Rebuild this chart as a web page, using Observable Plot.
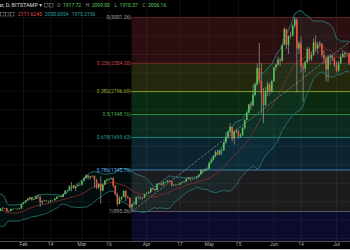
<!DOCTYPE html>
<html><head><meta charset="utf-8">
<script src="https://cdn.jsdelivr.net/npm/d3@7"></script>
<script src="https://cdn.jsdelivr.net/npm/@observablehq/plot@0.6"></script>
<style>
html,body{margin:0;padding:0;background:#000;overflow:hidden;}
#wrap{position:relative;width:350px;height:250px;overflow:hidden;}
#wrap svg{position:absolute;left:0;top:0;}
#strip{position:absolute;left:0;bottom:0;width:350px;height:1px;background:#c8c8c8;}
</style></head><body><div id="wrap"></div>
<script>
// ---- data (BTCUSD daily, Bitstamp, from 2017-01-01) ----
const startDate = "2017-01-01";
const opens = [
963,998,1021,1043,1154,1013,902,908,911,902,907,785,812,826,818,822,831,907,873,900,895,922,921,925,892,895,916,918,920,914,921,
970,989,1009,1030,1044,1016,1025,1051,1045,990,1004,1008,999,996,1010,1011,1029,1049,1054,1048,1079,1115,1117,1166,1173,1143,1165,1179,
1180,1222,1251,1283,1260,1270,1277,1234,1150,1189,1115,1180,1225,1238,1243,1253,1173,1071,971,1023,1048,1114,1046,1039,936,966,968,1045,1044,1040,1037,
1079,1086,1098,1141,1133,1124,1191,1193,1181,1205,1208,1225,1219,1172,1178,1181,1183,1199,1210,1212,1242,1254,1244,1248,1249,1266,1290,1343,1335,1349,
1351,1421,1452,1492,1537,1508,1546,1555,1640,1700,1756,1808,1679,1760,1766,1703,1718,1797,1885,1963,2050,2043,2156,2270,2446,2310,2166,2043,2197,2270,2190,
2303,2455,2486,2537,2523,2699,2870,2700,2797,2800,2910,2975,2660,2715,2460,2442,2512,2655,2548,2590,2727,2660,2700,2710,2590,2550,2430,2570,2580,2550,
2480,2420,2500,2570,2600,2610,2610];
const highs = [
1003,1031,1044,1159,1191,1046,908,942,915,910,918,827,833,830,825,834,911,917,905,904,928,937,928,929,900,918,923,924,921,924,972,
991,1012,1034,1050,1046,1028,1056,1073,1060,1008,1016,1010,1006,1013,1014,1035,1053,1059,1057,1086,1122,1125,1174,1210,1178,1168,1184,1194,
1224,1262,1290,1283,1274,1280,1279,1245,1198,1270,1200,1230,1245,1250,1258,1260,1175,1095,1055,1054,1120,1118,1060,1042,980,1000,1048,1065,1053,1048,1081,
1098,1111,1150,1151,1139,1196,1198,1199,1216,1214,1229,1228,1220,1185,1188,1186,1203,1215,1218,1250,1260,1258,1255,1253,1270,1296,1346,1348,1356,1360,
1426,1474,1500,1555,1560,1560,1570,1645,1750,1770,1850,1812,1768,1785,1770,1740,1810,1890,1970,2060,2080,2270,2290,2500,2720,2500,2230,2240,2300,2290,2320,
2460,2490,2570,2560,2700,2890,2875,2800,2840,2920,3001,2990,2740,2790,2500,2530,2680,2670,2620,2770,2800,2730,2740,2720,2640,2580,2590,2600,2600,2570,
2520,2520,2600,2640,2630,2620,2615];
const lows = [
958,990,1015,1040,910,851,806,887,880,896,756,736,776,812,810,818,829,858,870,884,894,897,916,886,886,893,907,915,910,912,919,
965,983,1006,1013,1009,1012,1024,1028,940,965,1000,995,979,992,1005,1010,1027,1046,1040,1045,1075,1097,1115,1110,1135,1113,1160,1165,
1172,1215,1245,1237,1238,1260,1148,1132,1137,975,1110,1175,1215,1228,1240,1150,1063,945,966,1018,1044,1000,1030,930,895,958,964,1024,1016,1019,1036,
1075,1084,1097,1120,1109,1122,1175,1168,1172,1198,1205,1210,1160,1165,1172,1170,1176,1195,1200,1208,1236,1220,1236,1238,1245,1262,1288,1306,1330,1330,
1348,1416,1445,1480,1500,1505,1500,1550,1625,1680,1740,1650,1615,1740,1680,1690,1710,1780,1880,1955,1990,2030,2140,2260,2280,1950,1850,2040,2140,2150,2180,
2300,2420,2470,2470,2520,2695,2650,2600,2770,2790,2880,2180,2600,2400,2080,2400,2500,2520,2525,2580,2620,2600,2680,2560,2500,2300,2300,2480,2520,2460,
2400,2400,2490,2560,2560,2580,2480];
const closes = [
998,1021,1043,1154,1013,902,908,911,902,907,785,812,826,818,822,831,907,873,900,895,922,921,925,892,895,916,918,920,914,921,970,
989,1009,1030,1044,1016,1025,1051,1045,990,1004,1008,999,996,1010,1011,1029,1049,1054,1048,1079,1115,1117,1166,1173,1143,1165,1179,1180,
1222,1251,1283,1260,1270,1277,1234,1150,1189,1115,1180,1225,1238,1243,1253,1173,1071,971,1023,1048,1114,1046,1039,936,966,968,1045,1044,1040,1037,1079,
1086,1098,1141,1133,1124,1191,1193,1181,1205,1208,1225,1219,1172,1178,1181,1183,1199,1210,1212,1242,1254,1244,1248,1249,1266,1290,1343,1335,1349,1351,
1421,1452,1492,1537,1508,1546,1555,1640,1700,1756,1808,1679,1760,1766,1703,1718,1797,1885,1963,2050,2043,2156,2270,2446,2310,2166,2043,2197,2270,2190,2303,
2455,2486,2537,2523,2699,2870,2700,2797,2800,2910,2975,2660,2715,2460,2442,2512,2655,2548,2590,2727,2660,2700,2710,2590,2550,2430,2570,2580,2550,2480,
2420,2500,2570,2600,2610,2610,2500];

// Fibonacci retracement
const fibHigh = 3001.26, fibLow = 895.06;
const fibStart = "2017-03-25", fibEnd = "2017-07-10";
const fibLevels = [0, 0.236, 0.382, 0.5, 0.618, 0.786, 1, 1.618];
const fibZoneColors = ["#2b0e0f", "#24270c", "#0b2a12", "#0c2a1e", "#0b2430", "#1c1c1e", "#0b0b2b"];
const fibLineColors = ["#5a2222", "#7a2a2a", "#7fa020", "#2e8b3e", "#1f8a7a", "#3a86b8", "#5a5a5a", "#2a3a9a"];
const fibLabelColors = ["#a0a0a0", "#d04848", "#a8b030", "#4caf50", "#26a69a", "#64b5f6", "#a0a0a0", "#5060d0"];

// dashed trend line of the retracement tool
const trendDates = ["2017-03-25", "2017-07-08"];
const trendPrices = [895.06, 2750];

// axis
const tickDates = ["2017-02-01","2017-02-14","2017-03-01","2017-03-14","2017-04-01","2017-04-17","2017-05-01","2017-05-15","2017-06-01","2017-06-14","2017-07-01"];
const tickLabels = ["Feb","14","Mar","16","Apr","17","May","15","Jun","14","Jul"];
const gridPrices = [600,800,1000,1200,1400,1600,1800,2000,2200,2400,2600,2800,3000,3200];
const xDomain = ["2017-01-20T23:30Z", "2017-07-07T17:00Z"];
const yDomain = [569, 3186];

// header legend
const title = "Bitcoin / U.S. Dollar, D, BITSTAMP ▾";
const ohlcLabels = ["O", "H", "L", "C"];
const ohlcValues = ["1917.72", "2099.00", "1910.57", "2006.16"];
const bbValues = ["2111.6245", "2030.0054", "1975.2156"];
const bbColors = ["#e05050", "#2aa3a0", "#2aa3a0"];

// ---- build ----
const parse = d3.utcParse("%Y-%m-%d");
const t0 = parse(startDate);
const days = d3.utcDay.range(t0, d3.utcDay.offset(t0, closes.length));
const candles = days.map((date, i) => ({date, open: opens[i], high: highs[i], low: lows[i], close: closes[i]}));

const bbN = 20, bbK = 2;
const bb = [];
for (let i = bbN - 1; i < closes.length; i++) {
  const w = closes.slice(i - bbN + 1, i + 1);
  const m = d3.mean(w);
  const sd = Math.sqrt(d3.mean(w, v => (v - m) ** 2));
  bb.push({date: days[i], basis: m, upper: m + bbK * sd, lower: m - bbK * sd});
}

const fx1 = parse(fibStart), fx2 = parse(fibEnd);
const fib = fibLevels.map((lv, i) => {
  const price = fibHigh - lv * (fibHigh - fibLow);
  return {level: lv, x1: fx1, x2: fx2, price, line: fibLineColors[i], labelColor: fibLabelColors[i],
          label: `${lv}(${price.toFixed(2)})`};
});
const fibVisible = fib.filter(f => f.price >= yDomain[0] && f.price <= yDomain[1]);
const zones = fib.slice(0, -1).map((f, i) => ({x1: fx1, x2: fx2, y1: f.price, y2: fib[i + 1].price, fill: fibZoneColors[i]}));
const ticks = tickDates.map((d, i) => ({date: parse(d), label: tickLabels[i]}));
const trend = trendDates.map((d, i) => ({date: parse(d), price: trendPrices[i]}));

const up = "#52c452", down = "#e8553e";

const chart = Plot.plot({
  width: 350, height: 250,
  marginTop: 0, marginRight: 0, marginBottom: 9, marginLeft: 0,
  style: {background: "#000", fontFamily: "Roboto, 'DejaVu Sans', sans-serif", overflow: "visible"},
  x: {type: "utc", domain: xDomain.map(d => new Date(d)), axis: null},
  y: {domain: yDomain, axis: null},
  color: {type: "identity"},
  marks: [
    Plot.rect(zones, {x1: "x1", x2: "x2", y1: "y1", y2: "y2", fill: "fill", clip: true}),
    Plot.ruleY(gridPrices, {stroke: "#ffffff", strokeOpacity: 0.05}),
    Plot.ruleX(ticks, {x: "date", stroke: "#ffffff", strokeOpacity: 0.06}),
    Plot.ruleY(fibVisible, {y: "price", x1: "x1", x2: "x2", stroke: "line", strokeWidth: 1, clip: true}),
    Plot.areaY(bb, {x: "date", y1: "lower", y2: "upper", fill: "#1d6b6b", fillOpacity: 0.12, clip: true}),
    Plot.lineY(bb, {x: "date", y: "upper", stroke: "#2b8082", strokeWidth: 0.8, clip: true}),
    Plot.lineY(bb, {x: "date", y: "lower", stroke: "#2b8082", strokeWidth: 0.8, clip: true}),
    Plot.lineY(bb, {x: "date", y: "basis", stroke: "#8a3030", strokeWidth: 0.8, clip: true}),
    Plot.line(trend, {x: "date", y: "price", stroke: "#8a8a8a", strokeWidth: 0.7, strokeDasharray: "2,2", clip: true}),
    Plot.ruleX(candles, {x: "date", y1: "low", y2: "high", stroke: "#9a9a9a", strokeWidth: 0.7, clip: true}),
    Plot.ruleX(candles, {x: "date", y1: "open", y2: "close", stroke: d => d.close >= d.open ? up : down, strokeWidth: 1.6, clip: true}),
    Plot.text(fibVisible, {x: "x1", y: "price", text: "label", fill: "labelColor", textAnchor: "end", dx: -1, fontSize: 5}),
    Plot.frame({anchor: "bottom", stroke: "#4a4a4a"}),
    Plot.text(ticks, {x: "date", text: "label", frameAnchor: "bottom", dy: 4, fill: "#a8a8a8", fontSize: 5})
  ]
});

const wrap = document.getElementById("wrap");
wrap.appendChild(chart);

// header overlay
const hdr = d3.select(wrap).append("svg").attr("width", 350).attr("height", 20)
  .style("font-family", "Roboto, 'DejaVu Sans', sans-serif").style("font-size", "5.5px");
hdr.append("text").attr("x", 42).attr("y", 7).attr("text-anchor", "end").attr("fill", "#dcdcdc").text(title);
[44, 49].forEach(x => hdr.append("rect").attr("x", x + 0.5).attr("y", 3.5).attr("width", 3.5).attr("height", 3.5).attr("fill", "none").attr("stroke", "#777").attr("stroke-width", 0.6));
const l1 = hdr.append("text").attr("x", 57).attr("y", 7).style("font-size", "5px");
ohlcLabels.forEach((lab, i) => {
  l1.append("tspan").attr("fill", "#9a9a9a").attr("dx", i ? 4.5 : 0).text(lab);
  l1.append("tspan").attr("fill", "#5fce5f").attr("dx", 2.5).text(ohlcValues[i]);
});
[0.5, 5.5, 10.5].forEach(x => hdr.append("rect").attr("x", x).attr("y", 12.5).attr("width", 3.5).attr("height", 3.5).attr("fill", "none").attr("stroke", "#777").attr("stroke-width", 0.6));
const l2 = hdr.append("text").attr("x", 18).attr("y", 16).style("font-size", "5px");
bbValues.forEach((v, i) => l2.append("tspan").attr("fill", bbColors[i]).attr("dx", i ? 3 : 0).text(v));

d3.select(wrap).append("div").attr("id", "strip");
</script></body></html>
